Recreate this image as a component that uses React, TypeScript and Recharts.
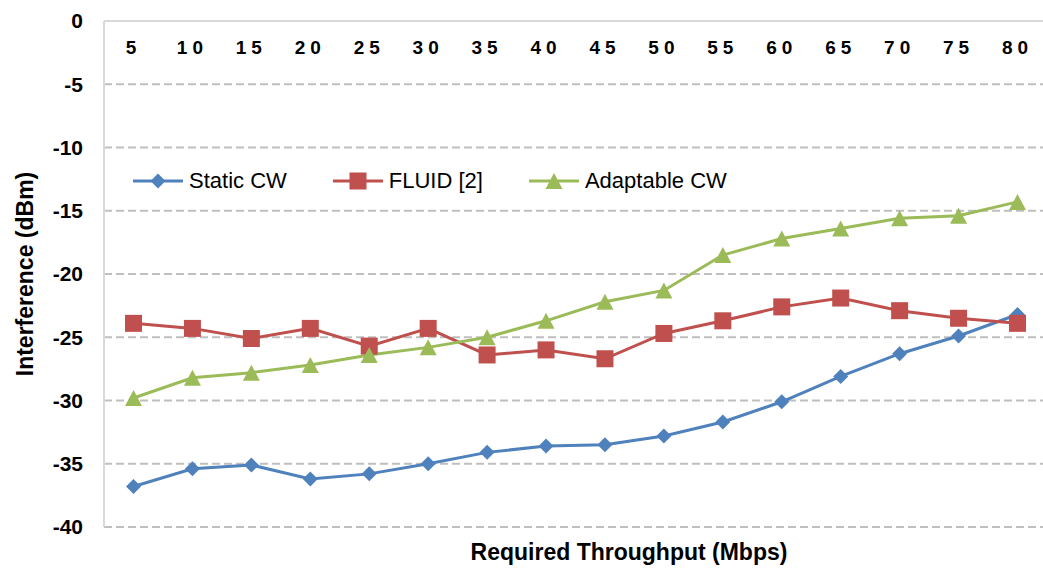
import { LineChart, Line, XAxis, YAxis, CartesianGrid, Legend, Label } from "recharts";

const throughput = [5, 10, 15, 20, 25, 30, 35, 40, 45, 50, 55, 60, 65, 70, 75, 80];
const staticCw = [-36.8, -35.4, -35.1, -36.2, -35.8, -35.0, -34.1, -33.6, -33.5, -32.8, -31.7, -30.1, -28.1, -26.3, -24.9, -23.2];
const fluid = [-23.9, -24.3, -25.1, -24.3, -25.7, -24.3, -26.4, -26.0, -26.7, -24.7, -23.7, -22.6, -21.9, -22.9, -23.5, -23.9];
const adaptableCw = [-29.8, -28.2, -27.8, -27.2, -26.4, -25.8, -25.0, -23.7, -22.2, -21.3, -18.5, -17.2, -16.4, -15.6, -15.4, -14.3];
const yTicks = [0, -5, -10, -15, -20, -25, -30, -35, -40];

const BLUE = "#4F81BD";
const RED = "#C0504D";
const GREEN = "#9BBB59";
const FONT = "Arial, 'Liberation Sans', sans-serif";

const data = throughput.map((t, i) => ({
  t,
  staticCw: staticCw[i],
  fluid: fluid[i],
  adaptableCw: adaptableCw[i],
}));

type Shape = "diamond" | "square" | "triangle";

const marker = (shape: Shape, color: string, cx: number, cy: number, key?: string | number) => {
  if (shape === "diamond") {
    const r = 7.5;
    return (
      <polygon key={key} points={`${cx},${cy - r} ${cx + r},${cy} ${cx},${cy + r} ${cx - r},${cy}`} fill={color} />
    );
  }
  if (shape === "square") {
    return <rect key={key} x={cx - 8.5} y={cy - 8.5} width={17} height={17} fill={color} />;
  }
  return (
    <polygon key={key} points={`${cx},${cy - 8} ${cx + 8.5},${cy + 8} ${cx - 8.5},${cy + 8}`} fill={color} />
  );
};

const makeDot = (shape: Shape, color: string) => (props: any) => {
  const { cx, cy, index } = props;
  if (cx == null || cy == null) return <g key={index} />;
  return marker(shape, color, cx, cy, index);
};

const legendItems: { name: string; color: string; shape: Shape }[] = [
  { name: "Static CW", color: BLUE, shape: "diamond" },
  { name: "FLUID [2]", color: RED, shape: "square" },
  { name: "Adaptable CW", color: GREEN, shape: "triangle" },
];

const LegendContent = () => (
  <div style={{ display: "flex", alignItems: "center", fontFamily: FONT, fontSize: 22, color: "#000" }}>
    {legendItems.map((it) => (
      <div key={it.name} style={{ display: "flex", alignItems: "center", marginRight: 46 }}>
        <svg width={50} height={20} style={{ marginRight: 6 }}>
          <line x1={0} y1={10} x2={50} y2={10} stroke={it.color} strokeWidth={3} />
          {marker(it.shape, it.color, 25, 10)}
        </svg>
        <span>{it.name}</span>
      </div>
    ))}
  </div>
);

// throughput labels sit just under the top axis line, inside the plot
const renderXTick = (props: any) => {
  const { x, y, payload, index } = props;
  return (
    <text key={index} x={x} y={y + 33} textAnchor="middle" fontFamily={FONT} fontSize={19} fontWeight="bold" letterSpacing={5} fill="#000">
      {payload.value}
    </text>
  );
};

export default function App() {
  return (
    <div style={{ position: "absolute", left: 0, top: 0, width: 1043, height: 571, overflow: "hidden", background: "#fff" }}>
      <LineChart width={1047} height={571} data={data} margin={{ top: 20, right: 0, bottom: 44, left: 0 }}>
        <CartesianGrid vertical={false} stroke="#BFBFBF" strokeWidth={2} strokeDasharray="8 4" />
        <XAxis
          dataKey="t"
          orientation="top"
          height={1}
          tickSize={0}
          tickMargin={0}
          tick={renderXTick}
          axisLine={{ stroke: "#D9D9D9", strokeWidth: 2 }}
          tickLine={false}
          interval={0}
          padding={{ left: 29.5, right: 29.5 }}
        />
        <YAxis
          width={104}
          domain={[-40, 0]}
          ticks={yTicks}
          interval={0}
          tickSize={0}
          tickMargin={21}
          tickLine={false}
          axisLine={{ stroke: "#D9D9D9", strokeWidth: 2 }}
          tick={{ fontFamily: FONT, fontSize: 21, fontWeight: "bold", fill: "#000" }}
        >
          <Label
            content={() => (
              <g>
                <text
                  x={33}
                  y={274}
                  transform="rotate(-90, 33, 274)"
                  textAnchor="middle"
                  fontFamily={FONT}
                  fontSize={23}
                  fontWeight="bold"
                  fill="#000"
                >
                  Interference (dBm)
                </text>
                <text x={629} y={560} textAnchor="middle" fontFamily={FONT} fontSize={23} fontWeight="bold" fill="#000">
                  Required Throughput (Mbps)
                </text>
              </g>
            )}
          />
        </YAxis>
        <Legend
          verticalAlign="middle"
          align="center"
          content={<LegendContent />}
          wrapperStyle={{ position: "absolute", top: 168, left: 133, width: "auto" }}
        />
        <Line
          dataKey="staticCw"
          name="Static CW"
          stroke={BLUE}
          strokeWidth={3}
          dot={makeDot("diamond", BLUE)}
          activeDot={false}
          isAnimationActive={false}
        />
        <Line
          dataKey="fluid"
          name="FLUID [2]"
          stroke={RED}
          strokeWidth={3}
          dot={makeDot("square", RED)}
          activeDot={false}
          isAnimationActive={false}
        />
        <Line
          dataKey="adaptableCw"
          name="Adaptable CW"
          stroke={GREEN}
          strokeWidth={3}
          dot={makeDot("triangle", GREEN)}
          activeDot={false}
          isAnimationActive={false}
        />
      </LineChart>
    </div>
  );
}
